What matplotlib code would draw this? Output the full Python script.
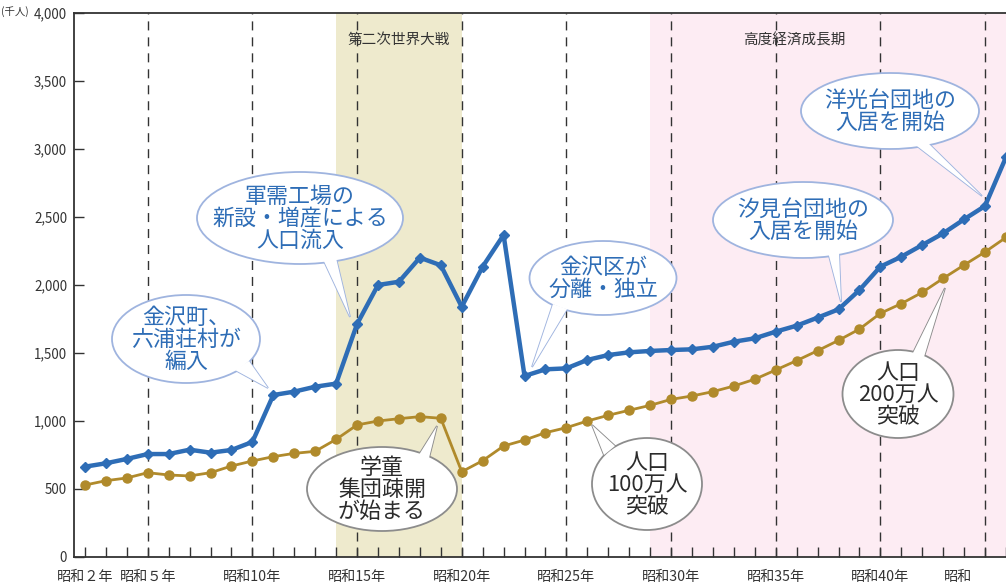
import matplotlib
matplotlib.use("Agg")
import matplotlib.pyplot as plt
from matplotlib.patches import Ellipse, Polygon
from matplotlib.transforms import Affine2D, offset_copy

plt.rcParams['font.family'] = ['Noto Sans CJK JP', 'DejaVu Sans']

# ---------------- data ----------------
years = list(range(2, 47))  # 昭和2年 .. 昭和46年
blue_values = [664, 689, 721, 757, 757, 789, 767, 787, 846, 1191, 1216, 1252, 1275,
               1713, 2000, 2024, 2201, 2145, 1840, 2135, 2368, 1331, 1380, 1387,
               1449, 1485, 1505, 1515, 1522, 1527, 1546, 1583, 1608, 1657, 1701,
               1760, 1821, 1963, 2135, 2208, 2294, 2380, 2483, 2581, 2940]
gold_values = [529, 561, 581, 620, 603, 596, 620, 669, 706, 738, 762, 777, 865,
               971, 1000, 1017, 1032, 1020, 627, 708, 816, 860, 914, 951, 1000,
               1042, 1079, 1115, 1159, 1184, 1216, 1257, 1307, 1375, 1444, 1517,
               1593, 1676, 1792, 1863, 1946, 2049, 2147, 2243, 2350]
xtick_years = [2, 5, 10, 15, 20, 25, 30, 35, 40, 45]
xtick_labels = ['昭和２年', '昭和５年', '昭和10年', '昭和15年', '昭和20年',
                '昭和25年', '昭和30年', '昭和35年', '昭和40年', '昭和']
ytick_values = [0, 500, 1000, 1500, 2000, 2500, 3000, 3500, 4000]
ytick_labels = ['0', '500', '1,000', '1,500', '2,000', '2,500', '3,000', '3,500', '4,000']
dashed_years = [5, 10, 15, 20, 25, 30, 35, 40, 45]
war_period = (14, 20)
growth_period = (29, 48)
war_label = '第二次世界大戦'
growth_label = '高度経済成長期'
unit_label = '(千人)'

# ---------------- figure ----------------
W, H = 1006, 587
fig = plt.figure(figsize=(W / 100, H / 100), dpi=100)
ax = fig.add_axes([74 / W, 30 / H, (W - 74) / W, 544 / H])
pix = Affine2D().scale(1 / 100, -1 / 100).translate(0, H / 100) + fig.dpi_scale_trans

BLUE = '#2e6db6'
GOLD = '#b08a2b'
DARK = '#333333'

ax.set_xlim(1.478, 45.712)
ax.set_ylim(0, 4000)

ax.axvspan(*war_period, color='#eeeacd', zorder=0, lw=0)
ax.axvspan(*growth_period, color='#fdecf3', zorder=0, lw=0)

for yv in dashed_years:
    ax.axvline(yv, color=DARK, lw=1.0, dashes=(6.5, 5), zorder=1)

ax.text(17, 3800, war_label, ha='center', va='center', fontsize=10.5, color=DARK)
ax.text(35.9, 3800, growth_label, ha='center', va='center', fontsize=10.5, color=DARK)

ax.plot(years, gold_values, color=GOLD, lw=2.0, marker='o', ms=6.5, zorder=3,
        solid_joinstyle='round')
ax.plot(years, blue_values, color=BLUE, lw=3.2, marker='D', ms=5.5, zorder=4,
        solid_joinstyle='round')

ax.set_xticks(xtick_years)
ax.set_xticklabels(xtick_labels, fontsize=10.2, color=DARK)
ax.set_xticks(years, minor=True)
ax.set_yticks(ytick_values)
ax.set_yticklabels(ytick_labels, fontsize=9.6, color=DARK)
ax.tick_params(axis='both', which='both', direction='in', length=7, width=1.0,
               color=DARK)
ax.tick_params(axis='x', which='major', pad=9)
ax.tick_params(axis='y', pad=5)
# last label is cut by the figure edge in the reference
lbl = ax.get_xticklabels()[-1]
lbl.set_transform(offset_copy(lbl.get_transform(), fig=fig, x=-27, y=0, units='dots'))

for s in ['left', 'bottom', 'top']:
    ax.spines[s].set_color(DARK)
    ax.spines[s].set_linewidth(1.3)
ax.spines['right'].set_visible(False)

fig.text(1 / W, 1 - 12 / H, unit_label, ha='left', va='center', fontsize=7.5, color=DARK)

# ---------------- speech bubbles (pixel coordinates) ----------------
bubbles = [
    # cx, cy, w, h, text, base1, base2, tip, style
    (186, 339, 148, 88, '金沢町、\n六浦荘村が\n編入', (235, 370), (249, 361), (268, 388), 'blue'),
    (300, 218, 206, 92, '軍需工場の\n新設・増産による\n人口流入', (322, 257), (336, 258), (350, 317), 'blue'),
    (603, 278, 147, 74, '金沢区が\n分離・独立', (553, 304), (567, 309), (532, 367), 'blue'),
    (803, 220, 180, 76, '汐見台団地の\n入居を開始', (828, 252), (839, 252), (841, 302), 'blue'),
    (890, 111, 178, 76, '洋光台団地の\n入居を開始', (913, 143), (927, 142), (982, 196), 'blue'),
    (382, 489, 150, 84, '学童\n集団疎開\nが始まる', (417, 458), (427, 466), (437, 426), 'gray'),
    (647, 484, 110, 92, '人口\n100万人\n突破', (604, 455), (615, 446), (592, 425), 'gray'),
    (898, 394, 111, 88, '人口\n200万人\n突破', (912, 355), (924, 357), (945, 288), 'gray'),
]

for cx, cy, w, h, txt, b1, b2, tip, style in bubbles:
    if style == 'blue':
        ec, tc = '#9fb4df', BLUE
    else:
        ec, tc = '#8c8c8c', '#2b2b2b'
    tri = [b1, tip, b2]
    p1 = Polygon(tri, closed=True, fc='white', ec=ec, lw=1.3, transform=pix,
                 clip_on=False, zorder=6, joinstyle='miter')
    e = Ellipse((cx, cy), w, h, fc='white', ec=ec, lw=1.3, transform=pix,
                clip_on=False, zorder=7)
    p2 = Polygon(tri, closed=True, fc='white', ec='none', lw=0, transform=pix,
                 clip_on=False, zorder=8)
    ax.add_patch(p1)
    ax.add_patch(e)
    ax.add_patch(p2)
    ax.text(cx, cy + 1, txt, transform=pix, ha='center', va='center', fontsize=15.8,
            color=tc, linespacing=1.0, zorder=9, clip_on=False)

fig.savefig('out.png', dpi=100)
